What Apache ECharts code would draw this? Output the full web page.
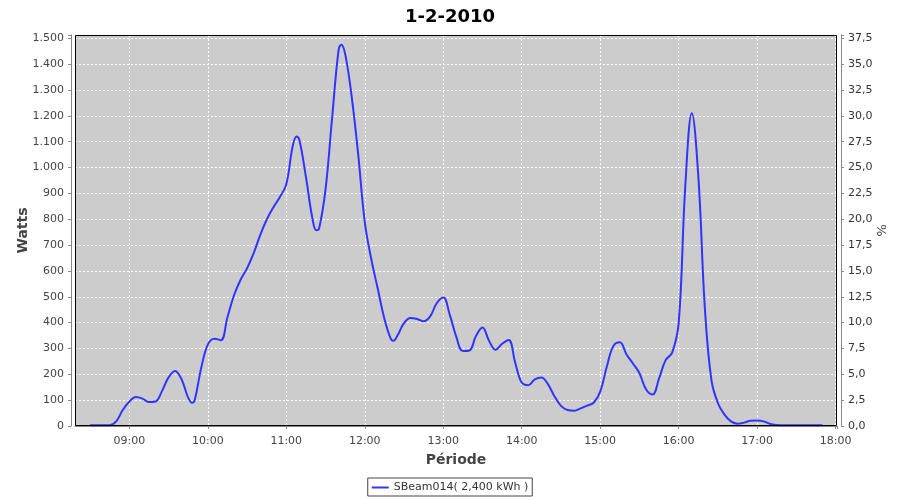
<!DOCTYPE html>
<html>
<head>
<meta charset="utf-8">
<script src="https://cdn.jsdelivr.net/npm/echarts@6/dist/echarts.min.js"></script>
<style>html,body{margin:0;padding:0;background:#fff}#c{width:900px;height:500px}</style>
</head>
<body>
<div id="c"></div>
<script>
var chartTitle = '1-2-2010';
var seriesName = 'SBeam014( 2,400 kWh )';
var times = ['08:30','08:35','08:40','08:45','08:50','08:55','09:00','09:05','09:10','09:15','09:20','09:25','09:30','09:35','09:40','09:45','09:48','09:50','09:55',
'10:00','10:05','10:10','10:15','10:20','10:25','10:30','10:35','10:40','10:45','10:50','10:55',
'11:00','11:05','11:08','11:10','11:15','11:20','11:23','11:25','11:30','11:35','11:40','11:42','11:45','11:50','11:55',
'12:00','12:05','12:10','12:15','12:20','12:22','12:25','12:30','12:35','12:40','12:45','12:50','12:55',
'13:00','13:05','13:10','13:15','13:20','13:25','13:30','13:35','13:40','13:45','13:50','13:55',
'14:00','14:05','14:10','14:15','14:20','14:25','14:30','14:35','14:40','14:45','14:50','14:55',
'15:00','15:05','15:10','15:15','15:20','15:25','15:30','15:35','15:40','15:45','15:50','15:55',
'16:00','16:05','16:10','16:15','16:20','16:25','16:30','16:35','16:40','16:45','16:50','16:55',
'17:00','17:05','17:10','17:15','17:20','17:25','17:30','17:35','17:40','17:45','17:50'];
var watts = [3,3,3,3,18,62,94,112,106,93,95,135,188,213,180,110,90,100,225,
315,338,332,420,505,565,610,668,738,798,845,885,
935,1085,1120,1108,965,803,757,762,915,1190,1455,1475,1440,1275,1050,
790,645,530,415,336,330,350,398,418,414,405,424,475,
497,430,345,290,292,348,381,330,295,318,333,245,
168,158,180,188,162,115,78,62,59,68,79,90,
133,229,309,324,278,242,204,142,122,184,255,284,
400,926,1210,965,455,178,88,44,18,9,13,20,
21,18,8,4,3,3,3,3,3,3,3];
var wattTicks = [0,100,200,300,400,500,600,700,800,900,1000,1100,1200,1300,1400,1500];
var axisRange = { xMin: '08:18:30', xMax: '18:01:00', yMax: 1513 };

function ts(s){ var p = s.split(':'); return Date.UTC(2010,1,1,+p[0],+p[1],+(p[2]||0)); }
function pad(n){ return (n<10?'0':'')+n; }
var data = times.map(function(t,i){ return [ts(t), watts[i]]; });

var font = 'DejaVu Sans';
var G = { left: 75, right: 63, top: 35, bottom: 74 };
var chart = echarts.init(document.getElementById('c'), null, {renderer:'canvas'});
chart.setOption({
  useUTC: true,
  animation: false,
  backgroundColor: '#ffffff',
  title: { text: chartTitle, left: 'center', top: 3,
    textStyle: { fontFamily: font, fontSize: 18, fontWeight: 'bold', color: '#000' } },
  grid: { left: G.left, right: G.right, top: G.top, bottom: G.bottom, show: true,
    containLabel: false, outerBoundsMode: 'none',
    backgroundColor: '#cccccc', borderColor: '#000000', borderWidth: 0 },
  graphic: [{ type: 'rect', z: 100, silent: true,
    shape: { x: G.left + 0.5, y: G.top + 0.5, width: 900 - G.left - G.right - 1, height: 500 - G.top - G.bottom - 1 },
    style: { fill: 'none', stroke: '#000000', lineWidth: 1 } }],
  legend: { left: 'center', top: 478, data: [{ name: seriesName, icon: 'rect' }],
    padding: [4, 4, 3, 4], itemWidth: 17, itemHeight: 2, itemGap: 4,
    borderColor: '#444', borderWidth: 1, borderRadius: 0,
    textStyle: { fontFamily: font, fontSize: 11, color: '#333' } },
  xAxis: {
    type: 'time', min: ts(axisRange.xMin), max: ts(axisRange.xMax),
    minInterval: 3600000, maxInterval: 3600000,
    offset: 4,
    name: 'Période', nameLocation: 'middle', nameGap: 23, nameMoveOverlap: false,
    nameTextStyle: { fontFamily: font, fontSize: 14, fontWeight: 'bold', color: '#444' },
    axisLine: { show: true, lineStyle: { color: '#888', width: 1 } },
    axisTick: { show: true, length: 3, lineStyle: { color: '#888' } },
    axisLabel: { margin: 6, fontFamily: font, fontSize: 11, color: '#444',
      showMinLabel: false, showMaxLabel: true, hideOverlap: false,
      formatter: function(v){ var d = new Date(v); if (d.getUTCMinutes()!==0) return ''; return pad(d.getUTCHours())+':00'; } },
    splitLine: { show: true, showMinLine: false, showMaxLine: false, lineStyle: { color: '#ffffff', type: [2,2], width: 1 } }
  },
  yAxis: [{
    type: 'value', min: 0, max: axisRange.yMax, interval: 100,
    offset: 4,
    name: 'Watts', nameLocation: 'middle', nameGap: 41, nameRotate: 90, nameMoveOverlap: false,
    nameTextStyle: { fontFamily: font, fontSize: 14, fontWeight: 'bold', color: '#444' },
    axisLine: { show: true, lineStyle: { color: '#888', width: 1 } },
    axisTick: { show: true, length: 3, lineStyle: { color: '#888' } },
    axisLabel: { margin: 7, fontFamily: font, fontSize: 11, color: '#444',
      formatter: function(v){ if (wattTicks.indexOf(v) < 0) return ''; return v >= 1000 ? Math.floor(v/1000)+'.'+String(v%1000).padStart(3,'0') : String(v); } },
    splitLine: { show: true, showMinLine: false, showMaxLine: false, lineStyle: { color: '#ffffff', type: [2,2], width: 1 } }
  }, {
    type: 'value', min: 0, max: axisRange.yMax/40, interval: 2.5,
    offset: 4, position: 'right',
    name: '%', nameLocation: 'middle', nameGap: 33, nameRotate: -90, nameMoveOverlap: false,
    nameTextStyle: { fontFamily: font, fontSize: 13, color: '#444' },
    axisLine: { show: true, lineStyle: { color: '#888', width: 1 } },
    axisTick: { show: true, length: 3, lineStyle: { color: '#888' } },
    axisLabel: { margin: 7, fontFamily: font, fontSize: 11, color: '#333',
      formatter: function(v){ var k = v/2.5; if (Math.abs(k-Math.round(k))>1e-6) return ''; return v.toFixed(1).replace('.', ','); } },
    splitLine: { show: false }
  }],
  series: [{
    name: seriesName, type: 'line', data: data, yAxisIndex: 0,
    showSymbol: false, symbol: 'none', smooth: 0.4,
    lineStyle: { color: '#3333ff', width: 2 }, itemStyle: { color: '#3333ff' }
  }]
});
</script>
</body>
</html>
